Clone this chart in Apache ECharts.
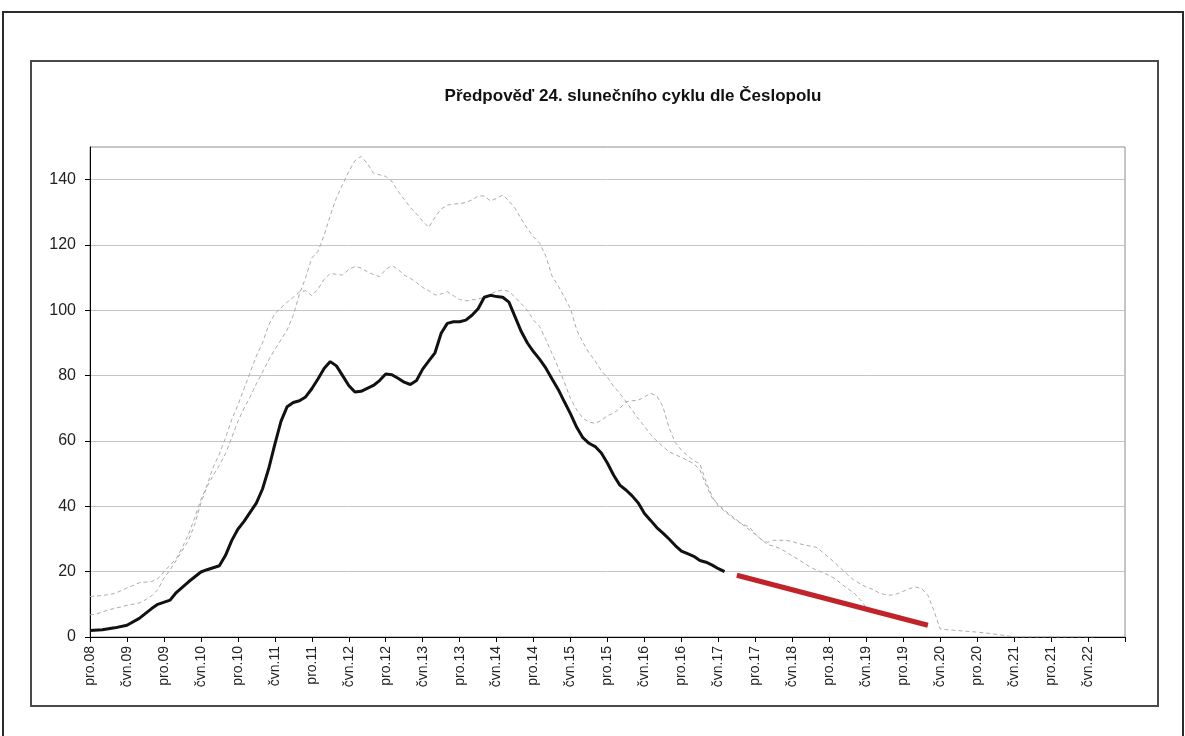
<!DOCTYPE html>
<html>
<head>
<meta charset="utf-8">
<title>Předpověď 24. slunečního cyklu</title>
<script src="https://cdn.jsdelivr.net/npm/echarts@6/dist/echarts.min.js"></script>
<style>
  html, body { margin: 0; padding: 0; background: #fff; }
  #chart { width: 1185px; height: 736px; }
</style>
</head>
<body>
<div id="chart"></div>
<script>
// x = months since Dec 2008 (pro.08), one tick every 6 months
const tickLabels = [
  'pro.08', 'čvn.09', 'pro.09', 'čvn.10', 'pro.10', 'čvn.11', 'pro.11',
  'čvn.12', 'pro.12', 'čvn.13', 'pro.13', 'čvn.14', 'pro.14', 'čvn.15',
  'pro.15', 'čvn.16', 'pro.16', 'čvn.17', 'pro.17', 'čvn.18', 'pro.18',
  'čvn.19', 'pro.19', 'čvn.20', 'pro.20', 'čvn.21', 'pro.21', 'čvn.22'
]
const yTicks = [0, 20, 40, 60, 80, 100, 120, 140]

// measured smoothed sunspot number (black)
const observed = [
  [0, 2.0], [2, 2.2], [4, 2.8], [6, 3.6], [8, 5.7], [10, 8.7], [11, 10], [13, 11.3],
  [14, 13.6], [16, 16.9], [18, 19.9], [19, 20.6], [21, 21.8], [22, 25], [23, 29.5],
  [24, 33], [25, 35.4], [27, 41], [28, 45.3], [29, 51.5], [30, 59], [31, 66],
  [32, 70.5], [33, 71.8], [34, 72.3], [35, 73.5], [36, 76], [37, 79], [38, 82.2],
  [39, 84.3], [40, 83], [41, 80], [42, 77], [43, 75], [44, 75.2], [45, 76.1],
  [46, 77], [47, 78.5], [48, 80.5], [49, 80.3], [50, 79.2], [51, 78], [52, 77.3],
  [53, 78.5], [54, 82], [55, 84.5], [56, 87], [57, 93], [58, 96], [59, 96.5],
  [60, 96.5], [61, 97], [62, 98.5], [63, 100.5], [64, 104], [65, 104.6], [66, 104.2],
  [67, 104], [68, 102.5], [69, 98], [70, 93.5], [71, 90], [72, 87.3], [73, 85],
  [74, 82.3], [75, 79], [76, 75.8], [77, 72], [78, 68.3], [79, 64.2], [80, 61],
  [81, 59.3], [82, 58.3], [83, 56.3], [84, 53.2], [85, 49.5], [86, 46.5], [87, 45],
  [88, 43.2], [89, 41], [90, 37.8], [91, 35.7], [92, 33.5], [93, 31.8], [94, 30],
  [95, 28], [96, 26.3], [97, 25.5], [98, 24.7], [99, 23.4], [100, 22.9], [101, 22],
  [102, 20.9], [103, 20]
]

// forecast (red)
const forecast = [[105, 18.9], [136, 3.6]]

// grey dashed curve, peak ~113
const curveLow = [
  [0, 12.4], [2, 12.7], [4, 13.3], [6, 15], [8, 16.6], [10, 17], [11, 17.8], [12, 20],
  [13, 22], [14, 24], [15, 27.5], [16, 31.5], [17, 36.5], [18, 42], [19, 46.5],
  [20, 52], [21, 56], [22, 61], [23, 66.5], [24, 71], [25, 76], [26, 81], [27, 86],
  [28, 90], [29, 95.5], [30, 99], [31, 100.8], [32, 102.5], [33, 104], [34, 105.6],
  [35, 106], [36, 104.5], [37, 106.5], [38, 109.5], [39, 111.3], [40, 111],
  [41, 110.8], [42, 112.5], [43, 113.4], [44, 113], [45, 111.8], [46, 111],
  [47, 110.3], [48, 112.5], [49, 113.7], [50, 112.5], [51, 110.8], [52, 109.8],
  [53, 108.5], [54, 107], [55, 106], [56, 104.7], [57, 105], [58, 105.7], [59, 104.5],
  [60, 103.3], [61, 102.9], [62, 103.2], [63, 103.5], [64, 104], [65, 105], [66, 105.8],
  [67, 106.2], [68, 105.8], [69, 104], [70, 102], [71, 100], [72, 97], [73, 95],
  [74, 91], [75, 86.8], [76, 82.5], [77, 78], [78, 73], [79, 69.5], [80, 67],
  [81, 65.8], [82, 65.4], [83, 66.3], [84, 67.8], [85, 68.5], [86, 70], [87, 72],
  [88, 72.3], [89, 72.5], [90, 73.5], [91, 74.6], [92, 73.8], [93, 70.5], [94, 64],
  [95, 59.5], [96, 57.2], [97, 55.5], [98, 54], [99, 53], [100, 47.5], [101, 43],
  [102, 40], [103, 38.5], [104, 37], [105, 35.5], [106, 34.5], [107, 33.7], [108, 31.5],
  [109, 29.8], [110, 29], [111, 29.6], [112, 29.6], [113, 29.6], [114, 29.2],
  [115, 28.6], [116, 28.2], [117, 27.8], [118, 27.4], [119, 25.8], [120, 24.2],
  [121, 22.6], [122, 20.8], [123, 19], [124, 17.4], [125, 16.3], [126, 15.3],
  [127, 14.6], [128, 13.6], [129, 13], [130, 12.8], [131, 13.2], [132, 14], [133, 14.8],
  [134, 15.3], [135, 14.8], [136, 12.8], [137, 8], [138, 2.4], [140, 2.1], [142, 1.8],
  [144, 1.5], [146, 1.1], [148, 0.6], [150, 0], [163, 0]
]

// grey dashed curve, peak ~147
const curveHigh = [
  [0, 6.8], [1, 7], [3, 8.3], [5, 9.2], [6, 9.7], [8, 10.4], [9, 11.4], [10, 12.6],
  [11, 14.5], [12, 18], [13, 20.5], [14, 23.5], [16, 29.6], [17, 34.5], [18, 41],
  [19, 46], [20, 49.5], [21, 52.5], [22, 56.2], [23, 61], [24, 66], [25, 70],
  [26, 73.5], [27, 77.5], [28, 81], [29, 84.8], [30, 88], [31, 91], [32, 94],
  [33, 98.5], [34, 105], [35, 110], [36, 116], [37, 118], [38, 123], [39, 129],
  [40, 134.5], [41, 138.5], [42, 142.5], [43, 145.8], [44, 147.1], [45, 145],
  [46, 142], [47, 141.5], [48, 141], [49, 139.5], [50, 136.5], [51, 134], [52, 131.5],
  [53, 129.5], [54, 127.3], [55, 125.4], [56, 128.5], [57, 131], [58, 132.2],
  [59, 132.5], [60, 132.7], [61, 133], [62, 133.8], [63, 135], [64, 135], [65, 133.5],
  [66, 134.3], [67, 135.3], [68, 133.5], [69, 131.2], [70, 128], [71, 125], [72, 122.5],
  [73, 120.5], [74, 116.5], [75, 110.5], [76, 107.5], [77, 104], [78, 100.5], [79, 94],
  [80, 90.2], [81, 87], [82, 84.5], [83, 81.5], [84, 79.5], [85, 76.7], [86, 74.6],
  [87, 72], [88, 69.5], [89, 66.8], [90, 64.5], [91, 62], [92, 60], [93, 58.3],
  [94, 56.7], [95, 55.8], [96, 55], [97, 54], [98, 53.1], [99, 51.1], [100, 46.5],
  [101, 42.5], [102, 40.5], [103, 38.8], [104, 37.3], [105, 35.8], [106, 34.3],
  [107, 32.9], [108, 31.4], [109, 29.8], [110, 28.3], [111, 27.8], [112, 27.1],
  [113, 26], [114, 24.8], [115, 23.7], [116, 22.5], [117, 21.3], [118, 20.4],
  [119, 19.7], [120, 18.8], [121, 17.8], [122, 16.2], [123, 14.8], [124, 13.5],
  [125, 11.5], [126, 9]
]

const font = 'Arial, "Liberation Sans", sans-serif'
const chart = echarts.init(document.getElementById('chart'))

const dashed = {
  color: '#ababab',
  width: 1,
  type: [4, 3]
}

chart.setOption({
  animation: false,
  backgroundColor: '#fff',
  title: {
    text: 'Předpověď 24. slunečního cyklu dle Česlopolu',
    left: 628,
    top: 83,
    textAlign: 'center',
    textStyle: { fontFamily: font, fontSize: 17, fontWeight: 'bold', color: '#111' }
  },
  // outer and inner frames of the original picture
  graphic: [
    {
      type: 'rect', silent: true,
      shape: { x: 3, y: 12, width: 1180, height: 780 },
      style: { fill: 'none', stroke: '#2b2b2b', lineWidth: 2 }
    },
    {
      type: 'rect', silent: true,
      shape: { x: 31, y: 61, width: 1127, height: 645 },
      style: { fill: 'none', stroke: '#4a4a4a', lineWidth: 2 }
    }
  ],
  grid: {
    left: 90,
    right: 60,
    top: 147,
    bottom: 99,
    show: true,
    borderColor: '#8c8c8c',
    borderWidth: 1
  },
  xAxis: {
    type: 'value',
    min: 0,
    max: 168,
    interval: 6,
    axisLine: { onZero: false, lineStyle: { color: '#000', width: 1 } },
    axisTick: { length: 5, lineStyle: { color: '#000' } },
    axisLabel: {
      rotate: 90,
      margin: 9,
      fontFamily: font,
      fontSize: 14,
      color: '#222',
      formatter: (v) => tickLabels[v / 6] || ''
    },
    splitLine: { show: false }
  },
  yAxis: {
    type: 'value',
    min: 0,
    max: 150,
    interval: 20,
    axisLine: { show: true, lineStyle: { color: '#000', width: 1 } },
    axisTick: { show: true, length: 5, customValues: yTicks, lineStyle: { color: '#000' } },
    axisLabel: {
      margin: 14,
      fontFamily: font,
      fontSize: 16,
      color: '#222',
      customValues: yTicks
    },
    splitLine: { lineStyle: { color: '#c4c4c4', width: 1 } }
  },
  series: [
    {
      name: 'horní',
      type: 'line',
      data: curveHigh,
      showSymbol: false,
      lineStyle: dashed,
      z: 2
    },
    {
      name: 'dolní',
      type: 'line',
      data: curveLow,
      showSymbol: false,
      lineStyle: dashed,
      z: 2
    },
    {
      name: 'měřeno',
      type: 'line',
      data: observed,
      showSymbol: false,
      lineStyle: { color: '#111', width: 3 },
      z: 3
    },
    {
      name: 'předpověď',
      type: 'line',
      data: forecast,
      showSymbol: false,
      lineStyle: { color: '#c1232b', width: 5 },
      z: 4
    }
  ]
})
</script>
</body>
</html>
